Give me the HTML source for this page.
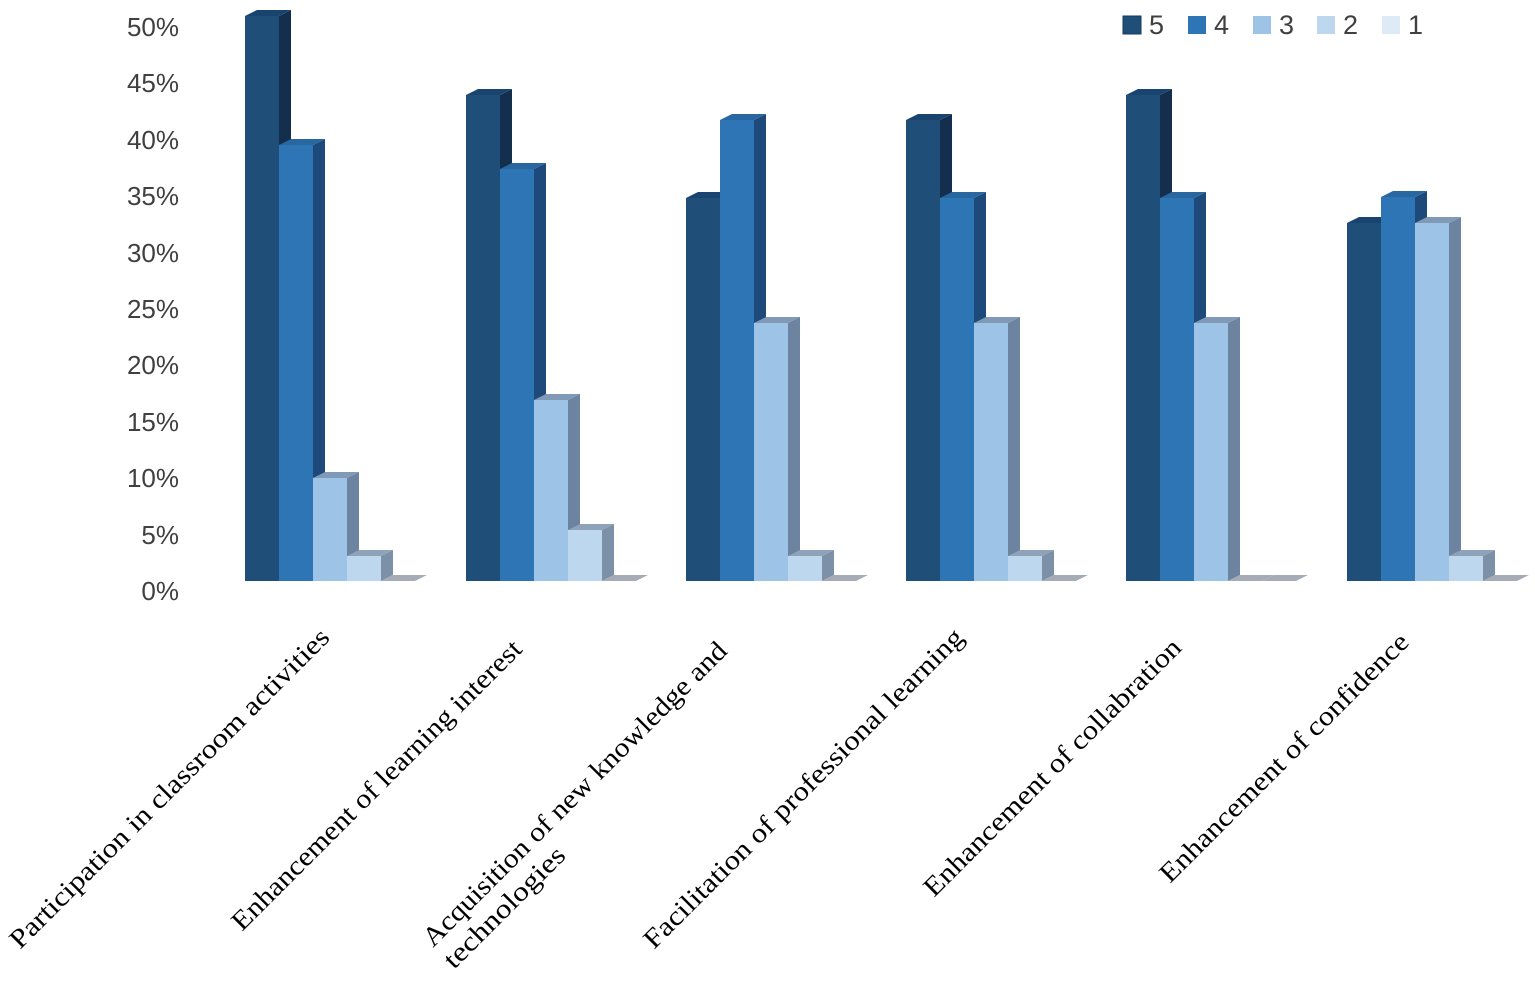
<!DOCTYPE html>
<html><head><meta charset="utf-8"><style>
html,body{margin:0;padding:0;background:#fff;}
svg{display:block;}
.y{font-family:"Liberation Sans",sans-serif;font-size:26px;fill:#404040;text-anchor:end;}
.l{font-family:"Liberation Serif",serif;font-size:27px;fill:#000;}
.lg{font-family:"Liberation Sans",sans-serif;font-size:27px;fill:#404040;}
</style></head><body>
<svg width="1535" height="982" viewBox="0 0 1535 982" xmlns="http://www.w3.org/2000/svg">
<g id="yl">
<text class="y" x="179" y="600">0%</text>
<text class="y" x="179" y="544">5%</text>
<text class="y" x="179" y="487">10%</text>
<text class="y" x="179" y="431">15%</text>
<text class="y" x="179" y="374">20%</text>
<text class="y" x="179" y="318">25%</text>
<text class="y" x="179" y="262">30%</text>
<text class="y" x="179" y="205">35%</text>
<text class="y" x="179" y="149">40%</text>
<text class="y" x="179" y="92">45%</text>
<text class="y" x="179" y="36">50%</text>
</g>
<g id="bars"></g>
<g>
<rect x="1123" y="16" width="18" height="18" fill="#1f4e79" stroke="#163a5c"/><text class="lg" x="1149" y="34">5</text>
<rect x="1188" y="16" width="18" height="18" fill="#2e75b6"/><text class="lg" x="1214" y="34">4</text>
<rect x="1253" y="16" width="18" height="18" fill="#9dc3e6"/><text class="lg" x="1279" y="34">3</text>
<rect x="1317" y="16" width="18" height="18" fill="#bdd7ee"/><text class="lg" x="1343" y="34">2</text>
<rect x="1382" y="16" width="18" height="18" fill="#deebf7"/><text class="lg" x="1408" y="34">1</text>
</g>
<g>
<text class="l" transform="translate(20,950) rotate(-45)" textLength="440" lengthAdjust="spacingAndGlyphs">Participation in  classroom activities</text>
<text class="l" transform="translate(242,932) rotate(-45)" textLength="398" lengthAdjust="spacingAndGlyphs">Enhancement of learning interest</text>
<text class="l" transform="translate(433,948) rotate(-45)" textLength="418" lengthAdjust="spacingAndGlyphs">Acquisition of new knowledge and</text>
<text class="l" transform="translate(454,970) rotate(-45)" textLength="160" lengthAdjust="spacingAndGlyphs">technologies</text>
<text class="l" transform="translate(654,950) rotate(-45)" textLength="440" lengthAdjust="spacingAndGlyphs">Facilitation of professional learning</text>
<text class="l" transform="translate(934,898) rotate(-45)" textLength="352" lengthAdjust="spacingAndGlyphs">Enhancement of collabration</text>
<text class="l" transform="translate(1170,884) rotate(-45)" textLength="340" lengthAdjust="spacingAndGlyphs">Enhancement of confidence</text>
</g>
</svg>
<script>
(function(){
var g=document.getElementById('bars');
var base=581,w=34,dx=12,dy=6;
var starts=[245,466,686,906,1126,1347];
var tops=[[16,145,478,556,581],[95,169,400,530,581],[198,120,323,556,581],[120,198,323,556,581],[95,198,323,581,581],[223,197,223,556,581]];
var front=['#1f4e79','#2e75b6','#9dc3e6','#bdd7ee','#deebf7'];
var side=['#142f4d','#1d4a7a','#6c84a0','#7c90a8','#8f9aa8'];
var top=['#1a4470','#28679f','#7f99b6','#8ea2b9','#a5acb5'];
var s='';
for(var i=0;i<6;i++){
 for(var j=0;j<5;j++){
  var x=starts[i]+j*w, t=tops[i][j];
  if(t>=base){
   s+='<polygon points="'+x+','+base+' '+(x+w)+','+base+' '+(x+w+dx)+','+(base-dy)+' '+(x+dx)+','+(base-dy)+'" fill="#a5acb5"/>';
   continue;
  }
  s+='<polygon points="'+(x+w)+','+t+' '+(x+w+dx)+','+(t-dy)+' '+(x+w+dx)+','+(base-dy)+' '+(x+w)+','+base+'" fill="'+side[j]+'"/>';
  s+='<polygon points="'+x+','+t+' '+(x+dx)+','+(t-dy)+' '+(x+w+dx)+','+(t-dy)+' '+(x+w)+','+t+'" fill="'+top[j]+'"/>';
  s+='<rect x="'+x+'" y="'+t+'" width="'+w+'" height="'+(base-t)+'" fill="'+front[j]+'"/>';
 }
}
g.innerHTML=s;
})();
</script>
</body></html>
